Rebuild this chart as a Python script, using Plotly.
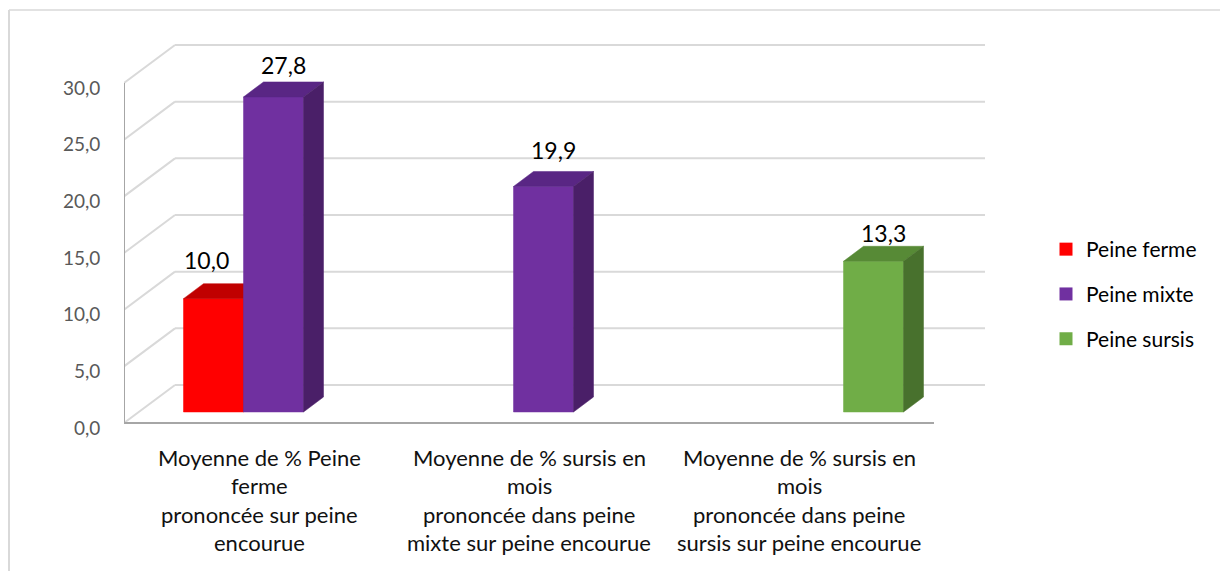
import plotly.graph_objects as go

# ---- data ----
categories = [
    "Moyenne de % Peine\nferme\nprononcée sur peine\nencourue",
    "Moyenne de % sursis en\nmois\nprononcée dans peine\nmixte sur peine encourue",
    "Moyenne de % sursis en\nmois\nprononcée dans peine\nsursis sur peine encourue",
]
series_names = ["Peine ferme", "Peine mixte", "Peine sursis"]
peine_ferme = [10.0, None, None]
peine_mixte = [27.8, 19.9, None]
peine_sursis = [None, None, 13.3]
y_ticks = [0, 5, 10, 15, 20, 25, 30]
y_tick_labels = ["0,0", "5,0", "10,0", "15,0", "20,0", "25,0", "30,0"]

series_values = [peine_ferme, peine_mixte, peine_sursis]
# face colours: front, top, side
series_colors = [
    ("#FF0000", "#C00000", "#A80000"),
    ("#7030A0", "#592684", "#4A1F68"),
    ("#70AD47", "#578A36", "#48712D"),
]

# ---- page / projection geometry (pixels) ----
W, H = 1220, 571
L, R, T, B = 124, 990, 40, 430          # plot area
ZERO_PX = 423                           # value 0 on the front plane
PPU = 340 / 30                          # pixels per value unit
CAT_PX = 270                            # pixels per category
CAT0_PX = 259                           # centre of first category (front plane)

def dx(px):
    return px / CAT_PX

def dy(px):
    return px / PPU

x_range = [(L - CAT0_PX) / CAT_PX, (R - CAT0_PX) / CAT_PX]
y_range = [(ZERO_PX - B) / PPU, (ZERO_PX - T) / PPU]

wall_dx, wall_dy = dx(51), dy(38)       # back wall depth
front_dx, front_dy = dx(14.5), dy(11)   # bar front plane depth
depth_dx, depth_dy = dx(20), dy(15)     # bar thickness
slot_w = dx(60)
n_series = len(series_values)
x_left, x_right = -0.5, len(categories) - 0.5
y_top = y_ticks[-1]

# pixel nudges for individual value labels, keyed by (series, category)
label_nudge = {(0, 0): (-17, 24), (1, 0): (0, 17), (1, 1): (0, 21), (2, 2): (0, 13)}

fig = go.Figure()

# back wall gridlines + side wall diagonals
gx, gy = [], []
for v in y_ticks:
    gx += [x_left + wall_dx, x_right + wall_dx, None, x_left, x_left + wall_dx, None]
    gy += [v + wall_dy, v + wall_dy, None, v, v + wall_dy, None]
fig.add_trace(go.Scatter(x=gx, y=gy, mode="lines",
                         line=dict(color="#D9D9D9", width=2),
                         hoverinfo="skip", showlegend=False))

# front axes
fig.add_trace(go.Scatter(x=[x_left, x_left, None, x_left, x_right],
                         y=[y_top, 0, None, 0, 0], mode="lines",
                         line=dict(color="#A6A6A6", width=2),
                         hoverinfo="skip", showlegend=False))

def face(xs, ys, color):
    fig.add_trace(go.Scatter(x=xs + [xs[0]], y=ys + [ys[0]], mode="lines",
                             fill="toself", fillcolor=color,
                             line=dict(color=color, width=0.5),
                             hoverinfo="skip", showlegend=False))

annotations = []

# 3-D bars, drawn left to right so nearer faces cover hidden ones
for j in range(len(categories)):
    for i, vals in enumerate(series_values):
        v = vals[j]
        if v is None:
            continue
        front, top, side = series_colors[i]
        xc = j + (i - (n_series - 1) / 2) * slot_w + front_dx
        x0, x1 = xc - slot_w / 2, xc + slot_w / 2
        y0, y1 = front_dy, front_dy + v
        face([x0, x1, x1, x0], [y0, y0, y1, y1], front)
        face([x0, x1, x1 + depth_dx, x0 + depth_dx],
             [y1, y1, y1 + depth_dy, y1 + depth_dy], top)
        face([x1, x1 + depth_dx, x1 + depth_dx, x1],
             [y0, y0 + depth_dy, y1 + depth_dy, y1], side)
        nx, ny = label_nudge.get((i, j), (0, 18))
        annotations.append(dict(
            x=xc + depth_dx / 2, y=y1 + depth_dy, xshift=nx, yshift=ny,
            text=f"{v:.1f}".replace(".", ","), showarrow=False,
            xanchor="center", yanchor="middle",
            font=dict(family="Lato", size=23, color="#000000")))

# legend entries
for name, cols in zip(series_names, series_colors):
    fig.add_trace(go.Scatter(x=[None], y=[None], mode="markers", name=name,
                             legendgroup=name,
                             marker=dict(symbol="square", size=13, color=cols[0])))

# value axis labels
for v, lab in zip(y_ticks, y_tick_labels):
    annotations.append(dict(x=x_left, y=v, xshift=-22, yshift=-4, text=lab,
                            showarrow=False, xanchor="right", yanchor="middle",
                            font=dict(family="Lato", size=19, color="#595959")))

# category labels
for j, cat in enumerate(categories):
    for k, line in enumerate(cat.split("\n")):
        annotations.append(dict(x=j, y=0, yshift=-(34 + 28.5 * k), text=line,
                                showarrow=False, xanchor="center", yanchor="middle",
                                font=dict(family="Lato", size=22, color="#111111")))

def px_x(px):
    return (px - L) / (R - L)

def px_y(py):
    return (B - py) / (B - T)

shapes = [
    dict(type="line", xref="paper", yref="paper", x0=px_x(9), y0=px_y(10),
         x1=px_x(W), y1=px_y(10), line=dict(color="#D9D9D9", width=1.5)),
    dict(type="line", xref="paper", yref="paper", x0=px_x(9), y0=px_y(10),
         x1=px_x(9), y1=px_y(H), line=dict(color="#D9D9D9", width=2)),
]

fig.update_layout(
    width=W, height=H,
    margin=dict(l=L, r=W - R, t=T, b=H - B, pad=0),
    paper_bgcolor="white", plot_bgcolor="white",
    xaxis=dict(range=x_range, visible=False, fixedrange=True),
    yaxis=dict(range=y_range, visible=False, fixedrange=True),
    showlegend=True,
    legend=dict(x=px_x(1046), y=px_y(229), xanchor="left", yanchor="top",
                font=dict(family="Lato", size=21, color="#000000"),
                tracegroupgap=14.5, bgcolor="rgba(0,0,0,0)"),
    annotations=annotations,
    shapes=shapes,
    hovermode=False,
)

fig.write_html("out.html")
